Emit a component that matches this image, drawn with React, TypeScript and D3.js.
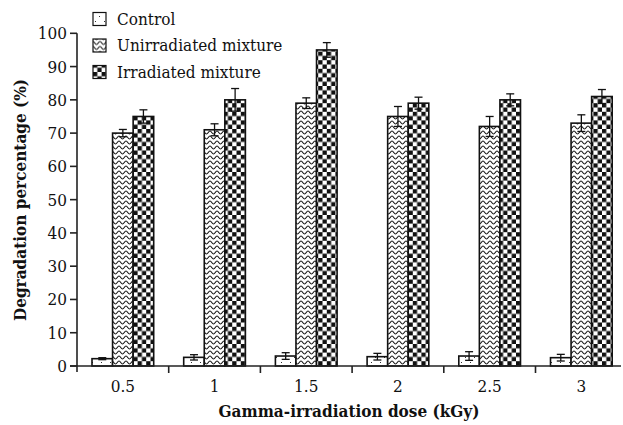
import React, { useEffect, useRef } from 'react';
import * as d3 from 'd3';

const doses = ['0.5', '1', '1.5', '2', '2.5', '3'];
const seriesNames = ['Control', 'Unirradiated mixture', 'Irradiated mixture'];
const controlValues = [2.2, 2.6, 3.0, 2.8, 3.0, 2.5];
const controlErrors = [0.3, 0.8, 1.0, 1.0, 1.3, 1.0];
const unirradiatedValues = [70, 71, 79, 75, 72, 73];
const unirradiatedErrors = [1.1, 1.8, 1.6, 3.0, 3.0, 2.5];
const irradiatedValues = [75, 80, 95, 79, 80, 81];
const irradiatedErrors = [2.0, 3.4, 2.2, 1.8, 1.8, 2.1];
const yTicks = [0, 10, 20, 30, 40, 50, 60, 70, 80, 90, 100];

const W = 623;
const H = 425;
const FONT = "'DejaVu Serif Condensed', 'DejaVu Serif', serif";
const FS = 17;

export default function App() {
  const svgRef = useRef<SVGSVGElement>(null);

  useEffect(() => {
    if (!svgRef.current) return;
    const svg = d3.select(svgRef.current);
    svg.selectAll('*').remove();

    const left = 77;
    const bottom = 366;

    // patterns
    const defs = svg.append('defs');
    const dots = defs.append('pattern')
      .attr('id', 'p-control').attr('patternUnits', 'userSpaceOnUse')
      .attr('width', 9).attr('height', 9);
    dots.append('rect').attr('width', 9).attr('height', 9).attr('fill', 'white');
    dots.append('rect').attr('x', 2).attr('y', 2).attr('width', 1).attr('height', 1).attr('fill', '#333');
    dots.append('rect').attr('x', 6).attr('y', 6).attr('width', 1).attr('height', 1).attr('fill', '#333');

    const zig = defs.append('pattern')
      .attr('id', 'p-unirr').attr('patternUnits', 'userSpaceOnUse')
      .attr('width', 7).attr('height', 5);
    zig.append('rect').attr('width', 7).attr('height', 5).attr('fill', 'white');
    zig.append('path')
      .attr('d', 'M0,1 C1.5,1 2,4 3.5,4 C5,4 5.5,1 7,1')
      .attr('fill', 'none').attr('stroke', '#111').attr('stroke-width', 1.1);

    const chk = defs.append('pattern')
      .attr('id', 'p-irr').attr('patternUnits', 'userSpaceOnUse')
      .attr('width', 8.6).attr('height', 8.6);
    chk.append('rect').attr('width', 8.6).attr('height', 8.6).attr('fill', 'white');
    chk.append('rect').attr('width', 4.3).attr('height', 4.3).attr('fill', '#111');
    chk.append('rect').attr('x', 4.3).attr('y', 4.3).attr('width', 4.3).attr('height', 4.3).attr('fill', '#111');

    const fills = ['url(#p-control)', 'url(#p-unirr)', 'url(#p-irr)'];

    const x0 = d3.scaleBand<string>().domain(doses).range([left, left + 6 * 91.7]);
    const x1 = d3.scaleBand<string>().domain(seriesNames)
      .range([15, x0.bandwidth() - 15]);
    const y = d3.scaleLinear().domain([0, 100]).range([bottom, 33.3]);

    const values = [controlValues, unirradiatedValues, irradiatedValues];
    const errors = [controlErrors, unirradiatedErrors, irradiatedErrors];

    const rows = doses.flatMap((d, i) =>
      seriesNames.map((s, k) => ({ dose: d, series: s, k, v: values[k][i], e: errors[k][i] })));

    const g = svg.append('g');
    g.selectAll('rect.bar').data(rows).join('rect')
      .attr('class', 'bar')
      .attr('x', d => (x0(d.dose) || 0) + (x1(d.series) || 0))
      .attr('y', d => y(d.v))
      .attr('width', x1.bandwidth())
      .attr('height', d => bottom - y(d.v))
      .attr('fill', d => fills[d.k])
      .attr('stroke', '#111')
      .attr('stroke-width', 1.6);

    // error bars
    const eb = g.selectAll('g.err').data(rows).join('g').attr('class', 'err')
      .attr('stroke', '#111').attr('stroke-width', 1.3);
    const cx = (d: any) => (x0(d.dose) || 0) + (x1(d.series) || 0) + x1.bandwidth() / 2;
    eb.append('line')
      .attr('x1', cx).attr('x2', cx)
      .attr('y1', d => y(d.v - d.e)).attr('y2', d => y(d.v + d.e));
    eb.append('line')
      .attr('x1', d => cx(d) - 4).attr('x2', d => cx(d) + 4)
      .attr('y1', d => y(d.v + d.e)).attr('y2', d => y(d.v + d.e));
    eb.append('line')
      .attr('x1', d => cx(d) - 4).attr('x2', d => cx(d) + 4)
      .attr('y1', d => y(d.v - d.e)).attr('y2', d => y(d.v - d.e));

    // axes
    const ax = svg.append('g').attr('stroke', '#222').attr('stroke-width', 1.6);
    ax.append('line').attr('x1', left).attr('x2', left).attr('y1', y(100)).attr('y2', bottom + 6);
    ax.append('line').attr('x1', left - 7).attr('x2', 621).attr('y1', bottom).attr('y2', bottom);
    ax.selectAll('line.yt').data(yTicks).join('line').attr('class', 'yt')
      .attr('x1', left - 7).attr('x2', left).attr('y1', d => y(d)).attr('y2', d => y(d));
    ax.selectAll('line.xt').data(doses.slice(1)).join('line').attr('class', 'xt')
      .attr('x1', d => x0(d) || 0).attr('x2', d => x0(d) || 0)
      .attr('y1', bottom).attr('y2', bottom + 7);

    svg.selectAll('text.yl').data(yTicks).join('text').attr('class', 'yl')
      .attr('x', left - 10).attr('y', d => y(d)).attr('dy', '0.35em')
      .attr('text-anchor', 'end')
      .attr('font-family', FONT).attr('font-size', FS).attr('fill', '#111')
      .text(d => d);

    svg.selectAll('text.xl').data(doses).join('text').attr('class', 'xl')
      .attr('x', d => (x0(d) || 0) + x0.bandwidth() / 2).attr('y', 392)
      .attr('text-anchor', 'middle')
      .attr('font-family', FONT).attr('font-size', FS).attr('fill', '#111')
      .text(d => d);

    svg.append('text')
      .attr('x', 349).attr('y', 417).attr('text-anchor', 'middle')
      .attr('font-family', FONT).attr('font-size', FS).attr('font-weight', 'bold')
      .attr('fill', '#111')
      .text('Gamma-irradiation dose (kGy)');

    svg.append('text')
      .attr('transform', 'translate(26,200) rotate(-90)').attr('text-anchor', 'middle')
      .attr('font-family', FONT).attr('font-size', FS).attr('font-weight', 'bold')
      .attr('fill', '#111')
      .text('Degradation percentage (%)');

    // legend
    const lg = svg.selectAll('g.lg').data(seriesNames).join('g').attr('class', 'lg')
      .attr('transform', (_, i) => `translate(93,${19 + i * 26.5})`);
    lg.append('rect').attr('x', 0).attr('y', -6.5).attr('width', 13).attr('height', 13)
      .attr('fill', (_, i) => fills[i]).attr('stroke', '#111').attr('stroke-width', 1.2);
    lg.append('text').attr('x', 24).attr('dy', '0.35em')
      .attr('font-family', FONT).attr('font-size', FS).attr('fill', '#111')
      .text(d => d);
  }, []);

  return (
    <svg ref={svgRef} width={W} height={H}
      style={{ position: 'absolute', left: 0, top: 0, background: 'white' }} />
  );
}
